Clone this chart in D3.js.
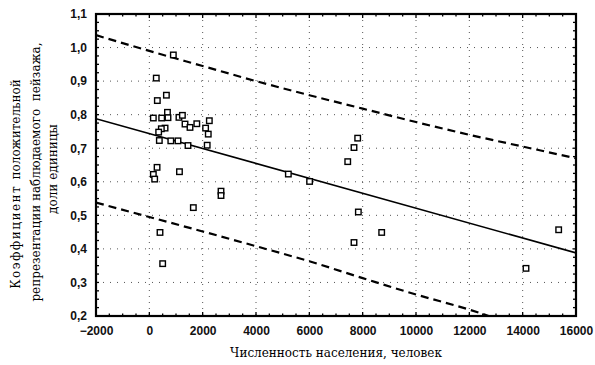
<!DOCTYPE html>
<html>
<head>
<meta charset="utf-8">
<script src="https://cdn.jsdelivr.net/npm/d3@7"></script>
<style>
  body { margin: 0; background: #fff; }
  svg { display: block; }
</style>
</head>
<body>
<svg id="chart" width="595" height="365"></svg>
<script>
// -------------- DATA ----------------- //
// population of settlement (x) vs coefficient (y)
const popX = [900, 260, 300, 640, 150, 463, 680, 700, 1110, 1240,
              1338, 1525, 1780, 2250, 2110, 2210, 590, 450, 350, 375,
              805, 1075, 1450, 2170, 290, 150, 200, 1130, 2688, 2688,
              1650, 400, 500, 5213, 6010, 7440, 7813, 7675, 7838, 8713,
              7675, 15350, 14125];
const coefY = [0.978, 0.909, 0.842, 0.858, 0.790, 0.790, 0.807, 0.791, 0.792, 0.798,
               0.772, 0.762, 0.773, 0.782, 0.760, 0.742, 0.760, 0.758, 0.748, 0.723,
               0.722, 0.722, 0.708, 0.709, 0.643, 0.622, 0.608, 0.630, 0.572, 0.559,
               0.523, 0.449, 0.356, 0.623, 0.601, 0.660, 0.730, 0.702, 0.510, 0.449,
               0.419, 0.457, 0.342];

// regression line ends
const fitX = [-2000, 16000];
const fitY = [0.788, 0.388];

// prediction band (dashed), read at each major tick
const bandX = [-2000, 0, 2000, 4000, 6000, 8000, 10000, 12000, 14000, 16000];
const upperY = [1.037, 0.990, 0.945, 0.900, 0.858, 0.818, 0.778, 0.740, 0.705, 0.670];
const lowerY = [0.538, 0.495, 0.452, 0.408, 0.363, 0.313, 0.264, 0.219, 0.165, 0.115];

const xTicks = [-2000, 0, 2000, 4000, 6000, 8000, 10000, 12000, 14000, 16000];
const yTicks = [0.2, 0.3, 0.4, 0.5, 0.6, 0.7, 0.8, 0.9, 1.0, 1.1];

// -------------- SETUP ----------------- //
const svg = d3.select("#chart");
const margin = { top: 14, right: 19, bottom: 49, left: 96 };
const width = 595 - margin.left - margin.right;
const height = 365 - margin.top - margin.bottom;

const x = d3.scaleLinear().domain([-2000, 16000]).range([0, width]);
const y = d3.scaleLinear().domain([0.2, 1.1]).range([height, 0]);

const g = svg.append("g").attr("transform", `translate(${margin.left},${margin.top})`);

g.append("clipPath").attr("id", "plotClip")
  .append("rect").attr("width", width).attr("height", height);

// grid (sparse dots)
g.append("g").selectAll("line.vg").data(xTicks.slice(1, -1)).join("line")
  .attr("x1", d => x(d)).attr("x2", d => x(d))
  .attr("y1", 0).attr("y2", height)
  .attr("stroke", "#555").attr("stroke-width", 1).attr("stroke-dasharray", "1,5");
g.append("g").selectAll("line.hg").data(yTicks.slice(1, -1)).join("line")
  .attr("y1", d => y(d)).attr("y2", d => y(d))
  .attr("x1", 0).attr("x2", width)
  .attr("stroke", "#555").attr("stroke-width", 1).attr("stroke-dasharray", "1,6");

// axes: major labels outside, minor ticks inside
const fmtY = d => d3.format(".1f")(d).replace(".", ",");
const tickFont = "'Liberation Sans', Arial, sans-serif";

const xAxis = g.append("g").attr("transform", `translate(0,${height})`)
  .call(d3.axisBottom(x).tickValues(xTicks).tickSize(0).tickPadding(10).tickFormat(d3.format("d")));
const yAxis = g.append("g")
  .call(d3.axisLeft(y).tickValues(yTicks).tickSize(0).tickPadding(9).tickFormat(fmtY));
[xAxis, yAxis].forEach(a => {
  a.select(".domain").remove();
  a.selectAll("text").attr("font-family", tickFont).attr("font-size", 12)
    .attr("font-weight", "bold").attr("fill", "#111");
});

const minorX = d3.range(-2000, 16001, 500);
const minorY = d3.range(0, 37).map(i => 0.2 + i * 0.025);
const ticks = g.append("g").attr("stroke", "#000").attr("stroke-width", 1.3);
ticks.selectAll("line.bx").data(minorX).join("line")
  .attr("x1", d => x(d)).attr("x2", d => x(d))
  .attr("y1", height).attr("y2", d => height - (d % 2000 === 0 ? 4 : 2.5));
ticks.selectAll("line.tx").data(minorX).join("line")
  .attr("x1", d => x(d)).attr("x2", d => x(d))
  .attr("y1", 0).attr("y2", d => (d % 2000 === 0 ? 4 : 2.5));
ticks.selectAll("line.ly").data(minorY).join("line")
  .attr("y1", d => y(d)).attr("y2", d => y(d))
  .attr("x1", 0).attr("x2", 3);
ticks.selectAll("line.ry").data(minorY).join("line")
  .attr("y1", d => y(d)).attr("y2", d => y(d))
  .attr("x1", width).attr("x2", width - 3);

// -------------- LINES ----------------- //
const line = d3.line().x(d => x(d[0])).y(d => y(d[1]));
const plot = g.append("g").attr("clip-path", "url(#plotClip)");

plot.append("path").datum(d3.zip(fitX, fitY))
  .attr("d", line).attr("fill", "none").attr("stroke", "#000").attr("stroke-width", 1.6);

[upperY, lowerY].forEach(vals => {
  plot.append("path").datum(d3.zip(bandX, vals))
    .attr("d", line.curve(d3.curveMonotoneX)).attr("fill", "none")
    .attr("stroke", "#000").attr("stroke-width", 2.2).attr("stroke-dasharray", "8,5");
});

// -------------- POINTS ----------------- //
const s = 5.5;
plot.selectAll("rect.pt").data(d3.zip(popX, coefY)).join("rect")
  .attr("x", d => x(d[0]) - s / 2).attr("y", d => y(d[1]) - s / 2)
  .attr("width", s).attr("height", s)
  .attr("fill", "#fff").attr("stroke", "#000").attr("stroke-width", 1.4);

// frame
g.append("rect").attr("width", width).attr("height", height)
  .attr("fill", "none").attr("stroke", "#000").attr("stroke-width", 2.2);

// -------------- TITLES ----------------- //
const serif = "'DejaVu Serif', 'Liberation Serif', serif";
svg.append("text")
  .attr("x", 336).attr("y", 357)
  .attr("text-anchor", "middle").attr("font-family", serif).attr("font-size", 12)
  .text("Численность населения, человек");

const yTitle = svg.append("g").attr("transform", "translate(0,172) rotate(-90)")
  .attr("font-family", serif).attr("font-size", 12).attr("text-anchor", "middle");
const l1 = yTitle.append("text").attr("x", -12).attr("y", 20);
l1.append("tspan").attr("letter-spacing", 1.5).text("Коэффициент ");
l1.append("tspan").text("положительной");
yTitle.append("text").attr("x", 0).attr("y", 40).attr("xml:space", "preserve")
  .text("репрезентации наблюдаемого  пейзажа,");
yTitle.append("text").attr("x", 3).attr("y", 57).text("доли единицы");
</script>
</body>
</html>
